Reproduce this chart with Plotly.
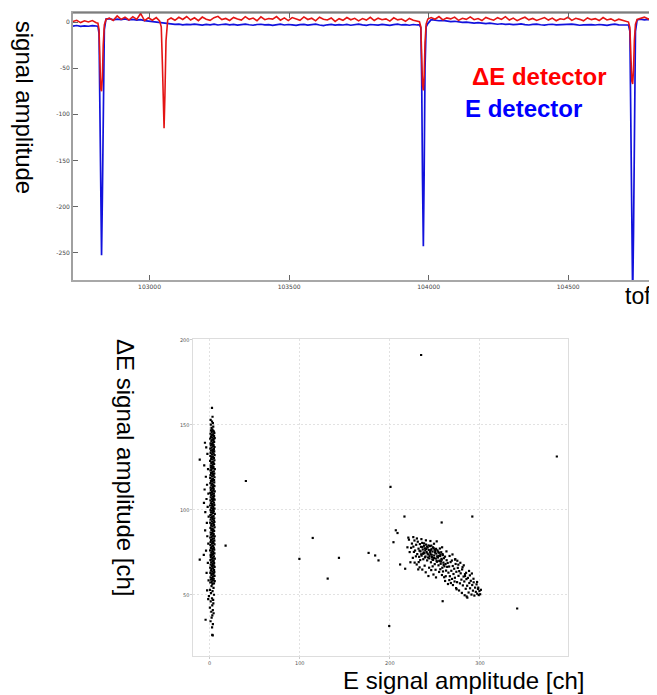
import plotly.graph_objects as go

# ---------------- top panel: waveforms ----------------
tof = [
    102725, 102739, 102753, 102767, 102781, 102795, 102809,
    102815, 102819, 102822, 102825, 102828, 102831, 102834, 102838, 102844,
    102856, 102870, 102884, 102898, 102912, 102926, 102940, 102954, 102968, 102982, 102996, 103010, 103024, 103036,
    103042, 103046, 103049, 103052, 103055, 103059, 103065,
    103077, 103091, 103105, 103119, 103133, 103147, 103161, 103175, 103189, 103203, 103217, 103231, 103245, 103259,
    103273, 103287, 103301, 103315, 103329, 103343, 103357, 103371, 103385, 103399, 103413, 103427, 103441, 103455,
    103469, 103483, 103497, 103511, 103525, 103539, 103553, 103567, 103581, 103595, 103609, 103623, 103637, 103651,
    103665, 103679, 103693, 103707, 103721, 103735, 103749, 103763, 103777, 103791, 103805, 103819, 103833, 103847,
    103861, 103875, 103889, 103903, 103917, 103931, 103945, 103959,
    103967, 103972, 103975, 103978, 103981, 103984, 103987, 103991, 103997,
    104009, 104023, 104037, 104051, 104065, 104079, 104093, 104107, 104121, 104135, 104149, 104163, 104177, 104191,
    104205, 104219, 104233, 104247, 104261, 104275, 104289, 104303, 104317, 104331, 104345, 104359, 104373, 104387,
    104401, 104415, 104429, 104443, 104457, 104471, 104485, 104499, 104513, 104527, 104541, 104555, 104569, 104583,
    104597, 104611, 104625, 104639, 104653, 104667, 104681, 104695, 104709,
    104716, 104721, 104725, 104728, 104731, 104734, 104737, 104741, 104747,
    104759, 104773, 104787, 104801, 104815,
]

e_amp = [
    -4.2, -3.6, -4.5, -3.9, -4.4, -3.7, -4.1,
    -4.5, -12, -95, -200, -253, -190, -70, -8, 3.5,
    3.8, 2.6, 3.4, 2.9, 3.6, 2.4, 3.1, 2.2, 2.8, 1.7, 1.2, 0.4, -0.3, -0.8,
    -0.6, -1.1, -0.7, -1.3, -0.9, -1.5, -1.2,
    -1.8, -2.4, -2.1, -2.9, -2.3, -2.7, -2.0, -2.6, -3.1, -2.4, -2.8, -2.2, -3.0, -2.5,
    -2.1, -2.9, -2.4, -3.2, -2.6, -2.0, -2.8, -3.3, -2.5, -2.2, -2.9, -2.6, -3.4, -2.7,
    -2.1, -3.0, -2.5, -2.9, -3.5, -2.6, -2.3, -3.1, -2.7, -2.2, -3.0, -3.6, -2.8, -2.4,
    -3.2, -2.6, -3.0, -2.3, -3.3, -2.7, -2.1, -2.9, -3.4, -2.5, -2.8, -3.1, -2.4, -2.9,
    -3.5, -2.6, -2.2, -3.0, -2.7, -3.3, -2.5, -3.0,
    -3.0, -6, -60, -170, -243, -160, -50, -5, -1.5,
    2.8, 2.2, 1.6, 1.9, 1.1, 0.7, 1.0, 0.3, -0.2, 0.1, -0.6, -0.9, -0.5, -1.2,
    -1.6, -1.1, -1.8, -2.2, -1.7, -2.4, -2.0, -2.7, -2.3, -1.9, -2.6, -3.0, -2.4, -2.1,
    -2.8, -3.2, -2.5, -2.2, -2.9, -2.6, -3.1, -2.4, -2.0, -2.7, -3.3, -2.8, -2.3, -2.6,
    -3.0, -2.5, -2.9, -3.4, -2.7, -2.2, -2.8, -3.1, -2.6,
    -3.0, -10, -120, -260, -300, -230, -90, -10, 2.5,
    3.2, 2.6, 3.0, 2.4, 2.8,
]

de_amp = [
    0.8, 2.1, -0.4, 1.5, 0.2, 1.8, -0.5,
    -1.0, -8, -45, -72, -75, -60, -25, -3, 3.0,
    4.5, 2.0, 6.8, 3.1, 5.5, 2.4, 6.0, 3.0, 9.5, 1.8, 4.8, 2.2, 5.0, 1.5,
    -5, -45, -95, -115, -80, -20, 2.5,
    4.6, 2.1, 5.3, 3.0, 6.2, 2.4, 4.8, 1.7, 5.6, 3.3, 2.0, 4.9, 6.4, 2.8,
    4.1, 1.9, 5.2, 3.6, 2.3, 6.0, 3.1, 4.5, 1.6, 5.8, 2.7, 4.0, 3.3, 6.1,
    2.2, 4.7, 1.8, 5.0, 3.5, 2.1, 5.7, 2.9, 4.3, 1.5, 5.4, 3.2, 2.4, 4.6,
    0.9, 3.8, 2.0, 5.1, 2.6, 4.2, 1.4, 3.9, 2.3, 5.3, 1.8, 4.4, 2.7, 3.6,
    1.2, 4.8, 2.5, 3.4, 1.0, 4.1, 2.2, 1.6,
    0.5, -5, -40, -68, -74, -58, -22, -2, 3.5,
    5.0, 3.2, 6.1, 2.5, 4.7, 3.6, 5.5, 2.0, 4.3, 3.1, 5.8, 2.7, 4.0, 1.8,
    5.2, 3.4, 2.2, 4.9, 3.0, 6.0, 2.4, 4.5, 1.7, 3.8, 5.4, 2.6, 4.1, 1.9,
    3.5, 5.0, 2.3, 4.4, 1.6, 3.7, 2.9, 5.3, 2.0, 4.2, 3.1, 1.5, 4.6, 2.8,
    3.9, 1.8, 5.1, 2.5, 3.6, 1.4, 3.3, 2.1, 1.0,
    0.2, -6, -42, -64, -67, -52, -20, -2, 3.0,
    4.2, 5.5, 3.4, 4.9, 3.8,
]

assert len(tof) == len(e_amp) == len(de_amp), (len(tof), len(e_amp), len(de_amp))

top_xticks = [103000, 103500, 104000, 104500]
top_yticks = [0, -50, -100, -150, -200, -250]

# ---------------- bottom panel: dE-E scatter ----------------
band_points = [
    (3.1,147.2),(1.4,146.8),(4.6,146.1),(2.3,145.7),(5.2,145.3),(0.9,144.8),(3.8,144.4),(2.0,143.9),(4.9,143.6),(1.6,143.0),
    (3.3,142.7),(5.6,142.2),(0.6,141.9),(2.8,141.3),(4.2,140.9),(1.9,140.5),(5.0,140.0),(3.6,139.6),(1.0,139.1),(2.5,138.8),
    (4.4,138.2),(1.3,137.9),(3.9,137.4),(5.4,137.0),(2.2,136.6),(0.7,136.1),(4.7,135.7),(3.0,135.3),(1.5,134.8),(5.1,134.4),
    (3.4,134.0),(1.1,133.5),(4.5,133.1),(2.6,132.7),(5.5,132.2),(0.8,131.8),(3.7,131.4),(2.1,130.9),(4.8,130.5),(1.7,130.0),
    (3.2,129.7),(5.3,129.2),(0.5,128.8),(2.9,128.3),(4.1,127.9),(1.8,127.5),(5.0,127.0),(3.5,126.6),(1.2,126.1),(2.4,125.8),
    (4.3,125.3),(1.4,124.9),(3.8,124.4),(5.7,124.0),(2.0,123.6),(0.9,123.2),(4.6,122.7),(3.1,122.3),(1.6,121.8),(5.2,121.4),
    (3.3,121.0),(1.0,120.5),(4.4,120.1),(2.7,119.7),(5.4,119.2),(0.6,118.8),(3.6,118.3),(2.2,117.9),(4.9,117.5),(1.5,117.0),
    (3.0,116.6),(5.1,116.2),(0.8,115.7),(2.8,115.3),(4.2,114.8),(1.9,114.4),(5.3,114.0),(3.7,113.5),(1.1,113.1),(2.5,112.6),
    (4.5,112.2),(1.3,111.8),(3.9,111.3),(5.6,110.9),(2.3,110.5),(0.7,110.0),(4.7,109.6),(3.2,109.1),(1.7,108.7),(5.0,108.3),
    (3.4,107.8),(1.2,107.4),(4.3,106.9),(2.6,106.5),(5.5,106.1),(0.9,105.6),(3.5,105.2),(2.1,104.8),(4.8,104.3),(1.4,103.9),
    (3.1,103.4),(5.2,103.0),(0.5,102.6),(2.9,102.1),(4.1,101.7),(1.8,101.2),(5.4,100.8),(3.8,100.4),(1.0,99.9),(2.4,99.5),
    (4.6,99.1),(1.6,98.6),(3.6,98.2),(5.7,97.7),(2.2,97.3),(0.8,96.9),(4.4,96.4),(3.0,96.0),(1.5,95.5),(5.1,95.1),
    (3.3,94.7),(1.1,94.2),(4.7,93.8),(2.7,93.3),(5.3,92.9),(0.6,92.5),(3.7,92.0),(2.0,91.6),(4.9,91.1),(1.7,90.7),
    (3.2,90.3),(5.5,89.8),(0.9,89.4),(2.8,88.9),(4.2,88.5),(1.9,88.1),(5.0,87.6),(3.5,87.2),(1.2,86.7),(2.5,86.3),
    (4.5,85.9),(1.4,85.4),(3.9,85.0),(5.6,84.5),(2.3,84.1),(0.7,83.7),(4.8,83.2),(3.1,82.8),(1.6,82.3),(5.2,81.9),
    (3.4,81.5),(1.0,81.0),(4.3,80.6),(2.6,80.1),(5.4,79.7),(0.8,79.3),(3.6,78.8),(2.1,78.4),(4.6,77.9),(1.5,77.5),
    (3.0,77.1),(5.1,76.6),(0.5,76.2),(2.9,75.7),(4.1,75.3),(1.8,74.9),(5.3,74.4),(3.8,74.0),(1.1,73.5),(2.4,73.1),
    (4.7,72.7),(1.3,72.2),(3.5,71.8),(5.7,71.3),(2.2,70.9),(0.9,70.5),(4.4,70.0),(3.2,69.6),(1.7,69.1),(5.0,68.7),
    (3.3,68.3),(1.2,67.8),(4.5,67.4),(2.7,66.9),(5.5,66.5),(0.6,66.1),(3.7,65.6),(2.0,65.2),(4.9,64.7),(1.4,64.3),
    (3.1,63.9),(5.2,63.4),(0.8,63.0),(2.8,62.5),(4.2,62.1),(1.9,61.7),(5.4,61.2),(3.6,60.8),(1.0,60.3),(2.5,59.9),
    (4.6,59.5),(1.6,59.0),(3.9,58.6),(5.6,58.1),(2.3,57.7),(0.7,57.3),(4.8,56.8),(3.0,56.4),
    (2.1,55.2),(4.3,54.1),(0.4,53.0),(3.2,52.2),(1.5,51.0),(4.8,50.1),(-0.8,49.3),(2.6,48.0),(3.9,47.1),(1.2,46.2),
    (4.1,45.0),(2.9,43.8),(0.3,42.5),(3.5,41.0),(1.8,40.1),(4.4,39.2),(3.0,38.0),(2.2,36.6),(-4.5,35.4),(1.0,34.5),
    (3.6,32.8),(2.7,30.9),(2.9,26.5),(3.4,26.2),
    (2.1,148.3),(4.0,149.0),(1.3,150.2),(3.6,151.1),(2.6,152.0),(1.1,153.0),(3.2,154.8),(2.6,160.0),
    (-11.0,129.6),(-11.0,70.8),(-5.2,139.5),(-3.8,136.8),(-2.5,133.0),(-6.0,126.2),(-1.8,124.0),(-4.2,119.5),(-2.9,114.8),
    (-5.6,112.0),(-1.4,109.6),(-3.5,106.4),(-6.3,104.1),(-2.2,101.8),(-4.8,98.7),(-1.1,96.0),(-3.1,92.4),(-5.0,88.0),
    (-2.6,84.5),(-1.5,80.2),(-4.0,76.1),(-6.5,73.5),(-2.0,68.8),(-3.4,63.0),(-1.2,58.5),(-2.8,52.7),(-1.6,47.5),
    (4.0,146.5),(2.7,144.1),(4.3,141.6),(3.0,138.4),(4.1,135.0),(2.4,131.2),(4.0,128.0),(3.0,124.7),(4.2,121.0),(2.6,117.3),
    (4.1,113.8),(3.0,110.2),(4.4,106.2),(2.8,102.9),(4.0,99.6),(3.1,95.8),(4.3,92.2),(2.7,88.3),(4.0,84.8),(3.2,81.2),
    (4.4,77.3),(2.8,73.8),(4.0,70.3),(3.1,66.6),(4.3,62.9),(2.7,59.3),
]

cluster_points = [
    (224.5,80.2),(226.1,78.4),(227.3,82.0),(228.0,76.1),(229.2,79.5),(230.4,74.0),(231.0,81.3),(231.8,77.2),(232.5,72.4),(233.3,79.9),
    (234.0,75.6),(234.6,78.3),(235.2,73.1),(235.9,80.6),(236.5,76.7),(237.1,71.0),(237.8,78.9),(238.4,74.5),(239.0,77.4),(239.6,72.6),
    (240.2,79.6),(240.8,75.2),(241.4,70.3),(242.0,77.9),(242.6,73.8),(243.2,76.4),(243.8,71.5),(244.4,78.7),(245.0,74.1),(245.6,69.2),
    (246.2,76.9),(246.8,72.3),(247.4,75.5),(248.0,70.6),(248.6,77.6),(249.2,73.2),(249.8,68.1),(250.4,75.8),(251.0,71.4),(251.6,74.3),
    (252.2,69.5),(252.8,76.2),(253.4,72.0),(254.0,67.4),(254.6,74.8),(255.2,70.2),(255.8,72.9),(256.4,68.3),(257.0,75.1),(257.6,70.7),
    (258.2,66.0),(258.8,73.4),(259.4,69.0),(260.0,71.6),(260.6,66.8),(261.2,72.5),(261.8,68.2),(262.4,64.3),(263.0,70.4),(263.6,66.5),
    (232.9,76.0),(234.8,73.9),(236.2,78.1),(237.5,75.0),(238.9,72.1),(240.5,77.0),(241.7,74.4),(243.0,79.1),(244.1,72.8),(245.3,76.3),
    (246.5,73.6),(247.7,78.0),(248.9,71.7),(250.1,74.9),(251.3,77.1),(252.5,72.7),(253.7,75.4),(254.9,69.9),(256.1,73.8),(257.3,71.2),
    (258.5,74.0),(259.7,67.7),(236.8,74.2),(239.3,76.2),(242.3,72.0),(244.7,75.3),(247.1,70.9),(249.5,76.7),(251.9,70.1),(254.3,73.0),
    (256.7,69.6),(238.0,80.3),(241.1,78.4),(246.0,79.0),(233.7,70.5),(249.0,80.1),(255.5,77.3),
    (264.2,68.8),(265.0,63.1),(265.8,66.7),(266.6,61.0),(267.4,69.3),(268.2,64.2),(269.0,59.4),(269.8,67.0),(270.6,62.3),(271.4,65.4),
    (272.2,60.1),(273.0,68.2),(273.8,63.6),(274.6,57.5),(275.4,65.9),(276.2,61.2),(277.0,64.0),(277.8,56.8),(278.6,62.7),(279.4,59.0),
    (280.2,65.0),(281.0,55.6),(281.8,60.8),(282.6,57.9),(283.4,62.2),(284.2,53.6),(285.0,59.3),(285.8,55.4),(286.6,60.0),(287.4,51.4),
    (288.2,57.0),(289.0,53.9),(289.8,58.3),(290.6,50.2),(291.4,55.8),(292.2,52.5),(293.0,57.4),(293.8,49.6),(294.6,54.3),(295.4,51.8),
    (296.2,56.2),(297.0,50.7),(297.8,53.5),(298.6,49.9),(299.4,52.3),(300.2,50.4),(301.0,53.0),
    (266.0,58.7),(270.0,55.8),(273.5,54.0),(276.8,52.6),(279.9,51.2),(283.0,49.8),(286.0,48.4),(268.8,70.2),(272.6,71.0),(276.0,67.8),
    (280.7,66.3),(284.6,63.0),(288.8,61.5),(292.8,59.5),(296.8,57.6),
    (211.4,67.9),(217.0,65.4),(222.8,69.2),(225.5,71.8),(229.8,67.9),(233.0,66.2),(236.0,64.9),(239.8,63.3),(242.8,61.1),(245.9,64.6),
    (248.4,62.0),(251.2,60.3),(254.7,63.5),(257.8,61.7),(261.3,58.2),(264.5,56.4),(222.0,75.2),(219.5,78.0),(221.2,82.5),(220.5,83.7),
    (226.0,84.0),(230.0,83.2),(235.0,82.8),(240.0,82.1),(245.0,81.7),(252.0,81.5),(247.5,66.8),(259.0,63.8),(262.0,61.0),(274.1,53.3),
    (285.2,49.1),(298.1,54.3),(283.4,61.1),(272.3,70.8),(227.5,69.0),(231.5,65.0),
    (262.8,75.6),(266.3,72.9),(269.5,73.8),(274.9,70.1),(278.2,68.9),(282.0,67.4),(287.9,64.1),(291.0,62.6),(238.6,67.2),(243.6,66.0),
    (250.7,64.8),(256.0,65.1),(260.3,60.4),(267.7,57.0),(271.8,57.9),(232.0,69.3),(228.9,72.7),(226.7,75.3),(223.6,77.7),(258.0,78.0),
]

outlier_points = [
    (17.7,79.0),(40.2,117.0),(99.6,71.2),(114.4,83.5),(131.0,59.6),(143.5,71.8),(176.4,74.7),(183.7,73.2),(187.4,70.3),
    (199.3,31.7),(200.7,113.6),(204.0,81.0),(206.6,88.0),(208.5,86.4),(216.2,96.1),(234.7,191.1),(257.5,92.6),(258.6,46.3),
    (291.5,96.1),(341.3,42.0),(385.3,131.4),
]

bottom_xticks = [0, 100, 200, 300]
bottom_yticks = [50, 100, 150, 200]

# ---------------- figure ----------------
# the page body has an 8 px margin, so the figure is drawn 8 px smaller and
# window-pixel positions are shifted by that margin
OFF = 8
W, H = 657 - OFF, 695 - OFF
def px(x):
    return (x - OFF) / W
def py(y):
    return 1 - (y - OFF) / H

fig = go.Figure()

fig.add_trace(go.Scatter(x=tof, y=e_amp, mode="lines", line=dict(color="#1212dd", width=1.7),
                         xaxis="x", yaxis="y", showlegend=False, hoverinfo="skip"))
fig.add_trace(go.Scatter(x=tof, y=de_amp, mode="lines", line=dict(color="#e41414", width=1.6),
                         xaxis="x", yaxis="y", showlegend=False, hoverinfo="skip"))

all_pts = band_points + cluster_points + outlier_points
fig.add_trace(go.Scatter(x=[p[0] for p in all_pts], y=[p[1] for p in all_pts], mode="markers",
                         marker=dict(symbol="square", size=2.2, color="black", line=dict(width=0)),
                         xaxis="x2", yaxis="y2", showlegend=False, hoverinfo="skip"))

tickfont = dict(family="DejaVu Sans", size=6, color="#444444")

fig.update_layout(
    width=W, height=H,
    margin=dict(l=0, r=0, t=0, b=0),
    paper_bgcolor="white", plot_bgcolor="white",
    showlegend=False,
    xaxis=dict(domain=[px(73), 1.0], anchor="y", range=[102725, 104811],
               tickvals=top_xticks, ticktext=[str(v) for v in top_xticks],
               ticks="inside", ticklen=5, tickcolor="#666666", tickwidth=1,
               showline=True, linecolor="#a8a8a8", linewidth=2, mirror="ticks",
               showgrid=False, zeroline=False, tickfont=tickfont),
    yaxis=dict(domain=[py(279), py(11)], anchor="x", range=[-280, 10],
               tickvals=top_yticks, ticktext=[str(v) for v in top_yticks],
               ticks="inside", ticklen=5, tickcolor="#666666", tickwidth=1,
               showline=True, linecolor="#a0a0a0", linewidth=1.5, mirror="ticks",
               showgrid=False, zeroline=False, tickfont=tickfont),
    xaxis2=dict(domain=[px(194), px(570)], anchor="y2", range=[-18, 398],
                tickvals=bottom_xticks, ticktext=[str(v) for v in bottom_xticks],
                ticks="outside", ticklen=2, tickcolor="#cccccc",
                showline=True, linecolor="#dddddd", linewidth=1, mirror=True,
                showgrid=True, gridcolor="#e2e2e2", griddash="2px,2px", gridwidth=1,
                zeroline=False, tickfont=dict(family="DejaVu Sans", size=5, color="#555555")),
    yaxis2=dict(domain=[py(656), py(338)], anchor="x2", range=[14, 200.5],
                tickvals=bottom_yticks, ticktext=[str(v) for v in bottom_yticks],
                ticks="outside", ticklen=2, tickcolor="#cccccc",
                showline=True, linecolor="#dddddd", linewidth=1, mirror=True,
                showgrid=True, gridcolor="#e2e2e2", griddash="2px,2px", gridwidth=1,
                zeroline=False, tickfont=dict(family="DejaVu Sans", size=5, color="#555555")),
)

# darker top border of the waveform panel
fig.add_shape(type="line", xref="paper", yref="paper", x0=px(73), x1=1.0, y0=py(11), y1=py(11),
              line=dict(color="#555555", width=1))

label_font = dict(family="Liberation Sans, Arial, sans-serif", size=23, color="black")
label_font_b = dict(family="Liberation Sans, Arial, sans-serif", size=24, color="black")
ann = [
    dict(text="signal amplitude", x=px(24), y=py(106), textangle=90, xanchor="center", yanchor="middle", font=label_font_b),
    dict(text="tof", x=px(625), y=py(295), xanchor="left", yanchor="middle", font=label_font),
    dict(text="ΔE signal amplitude [ch]", x=px(126), y=py(467), textangle=90, xanchor="center", yanchor="middle", font=label_font_b),
    dict(text="E signal amplitude [ch]", x=px(342), y=py(680), xanchor="left", yanchor="middle", font=label_font_b),
    dict(text="<b>ΔE detector</b>", x=px(471), y=py(75), xanchor="left", yanchor="middle",
         font=dict(family="Liberation Sans, Arial, sans-serif", size=24, color="#ff0000")),
    dict(text="<b>E detector</b>", x=px(464), y=py(107), xanchor="left", yanchor="middle",
         font=dict(family="Liberation Sans, Arial, sans-serif", size=24, color="#0000ff")),
]
for a in ann:
    fig.add_annotation(xref="paper", yref="paper", showarrow=False, **a)

fig.write_html("out.html")
